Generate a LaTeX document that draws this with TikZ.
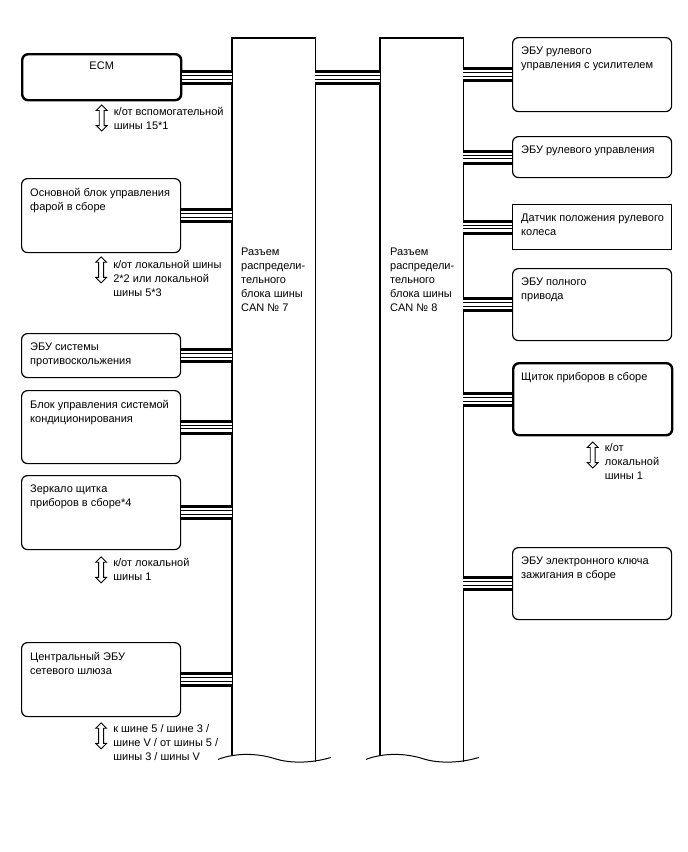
\documentclass[tikz,border=0pt]{standalone}
\usepackage{fontspec}
\setmainfont{Liberation Sans}
\usetikzlibrary{positioning,calc,shapes.arrows}

\tikzset{
  ecu/.style={draw, line width=1.2pt, rounded corners=6pt, anchor=north west,
    minimum width=159pt, inner sep=0pt},
  ecuthick/.style={ecu, line width=2.4pt},
  sensor/.style={ecu, rounded corners=0pt},
  ecutxt/.style={anchor=north west, align=left, inner sep=0pt, xshift=9pt, yshift=-10pt},
  bar/.style={anchor=north west, minimum width=83pt, minimum height=720pt, inner sep=0pt},
  cable/.style={line width=15pt, draw=black,
    postaction={draw=white, line width=9pt},
    postaction={draw=black, line width=4.6pt},
    postaction={draw=white, line width=2.6pt}},
  busarrow/.style={double arrow, draw, line width=0.9pt, shape border rotate=90,
    minimum height=26pt, inner sep=2pt, double arrow head extend=3pt},
  note/.style={anchor=north west, align=left, inner sep=0pt}
}

\begin{document}
\begin{tikzpicture}[x=1pt, y=-1pt, every node/.append style={font=\fontsize{11}{14}\selectfont}]
\useasboundingbox (0,0) rectangle (688,852);

% distribution blocks
\node[bar] (bar7) at (232,38) {};
\node[bar] (bar8) at (380,38) {};
\foreach \b in {bar7,bar8} {
  \draw[line width=1.2pt] ([yshift=3pt]\b.south west) -- (\b.north west)
    -- (\b.north east) -- ([yshift=-4pt]\b.south east);
  \draw[line width=1pt] ($(\b.south west)+(-14,1)$)
    .. controls ($(\b.south west)+(4,-6)$) and ($(\b.south west)+(26,-5)$) .. ($(\b.south west)+(42,0)$)
    .. controls ($(\b.south west)+(60,6)$) and ($(\b.south west)+(83,4)$) .. ($(\b.south west)+(99,-1)$);
}
\node[note] (bar7-t) at ([shift={(9,210)}]bar7.north west) {Разъем\\распредели-\\тельного\\блока шины\\CAN № 7};
\node[note] (bar8-t) at ([shift={(10,210)}]bar8.north west) {Разъем\\распредели-\\тельного\\блока шины\\CAN № 8};

% left side
\node[ecuthick, minimum height=46] (ecm) at (21,53) {};
\node[anchor=north, inner sep=0pt] (ecm-t) at ([yshift=-9pt]ecm.north) {ECM};
\node[ecu, minimum height=74] (hl) at (21,178) {};
\node[ecutxt] (hl-t) at (hl.north west) {Основной блок управления\\фарой в сборе};
\node[ecu, minimum height=44] (abs) at (21,333) {};
\node[ecutxt] (abs-t) at (abs.north west) {ЭБУ системы\\противоскольжения};
\node[ecu, minimum height=73] (ac) at (21,390) {};
\node[ecutxt] (ac-t) at (ac.north west) {Блок управления системой\\кондиционирования};
\node[ecu, minimum height=74] (mir) at (21,475) {};
\node[ecutxt] (mir-t) at (mir.north west) {Зеркало щитка\\приборов в сборе*4};
\node[ecu, minimum height=74] (gw) at (21,642) {};
\node[ecutxt] (gw-t) at (gw.north west) {Центральный ЭБУ\\сетевого шлюза};

% right side
\node[ecu, minimum height=74] (eps) at (512,37) {};
\node[ecutxt] (eps-t) at (eps.north west) {ЭБУ рулевого\\управления с усилителем};
\node[ecu, minimum height=41] (str) at (512,136) {};
\node[ecutxt] (str-t) at (str.north west) {ЭБУ рулевого управления};
\node[sensor, minimum height=45] (sas) at (512,204) {};
\node[ecutxt] (sas-t) at (sas.north west) {Датчик положения рулевого\\колеса};
\node[ecu, minimum height=72] (awd) at (512,268) {};
\node[ecutxt] (awd-t) at (awd.north west) {ЭБУ полного\\привода};
\node[ecuthick, minimum height=72] (meter) at (512,362) {};
\node[ecutxt] (meter-t) at (meter.north west) {Щиток приборов в сборе};
\node[ecu, minimum height=72] (key) at (512,547) {};
\node[ecutxt] (key-t) at (key.north west) {ЭБУ электронного ключа\\зажигания в сборе};

% bus lines
\foreach \n in {ecm,hl,abs,ac,mir,gw}
  \draw[cable] (\n.east) -- (\n.east -| bar7.west);
\draw[cable] (bar7.east |- ecm.east) -- (bar8.west |- ecm.east);
\foreach \n in {eps,str,sas,awd,meter,key}
  \draw[cable] (bar8.east |- \n.west) -- (\n.west);

% other buses
\node[busarrow, below=3pt of ecm] (a-ecm) {};
\node[note] (a-ecm-t) at ([shift={(12,-11)}]a-ecm.center) {к/от вспомогательной\\шины 15*1};
\node[busarrow, below=3pt of hl] (a-hl) {};
\node[note] (a-hl-t) at ([shift={(12,-10)}]a-hl.center) {к/от локальной шины\\2*2 или локальной\\шины 5*3};
\node[busarrow, below=6pt of mir] (a-mir) {};
\node[note] (a-mir-t) at ([shift={(12,-12)}]a-mir.center) {к/от локальной\\шины 1};
\node[busarrow, below=5pt of gw] (a-gw) {};
\node[note] (a-gw-t) at ([shift={(12,-12)}]a-gw.center) {к шине 5 / шине 3 /\\шине V / от шины 5 /\\шины 3 / шины V};
\node[busarrow, below=5pt of meter] (a-meter) {};
\node[note] (a-meter-t) at ([shift={(12,-12)}]a-meter.center) {к/от\\локальной\\шины 1};
\end{tikzpicture}
\end{document}
